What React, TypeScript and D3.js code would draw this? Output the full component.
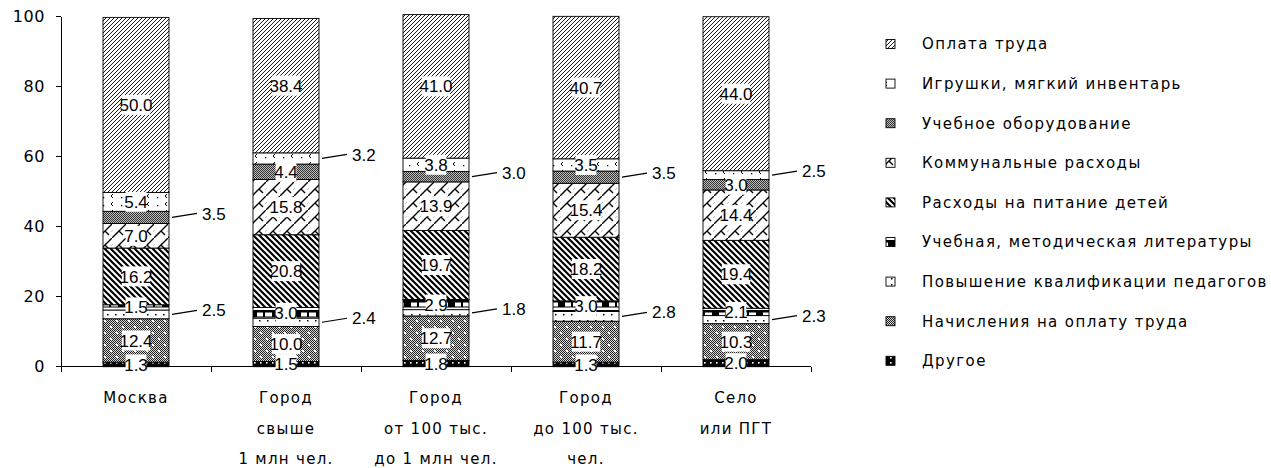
import React from "react";
import * as d3 from "d3";

const categories = [
  ["Москва"],
  ["Город", "свыше", "1 млн чел."],
  ["Город", "от 100 тыс.", "до 1 млн чел."],
  ["Город", "до 100 тыс.", "чел."],
  ["Село", "или ПГТ"],
];

const seriesNames = [
  "Другое",
  "Начисления на оплату труда",
  "Повышение квалификации педагогов",
  "Учебная, методическая литературы",
  "Расходы на питание детей",
  "Коммунальные расходы",
  "Учебное оборудование",
  "Игрушки, мягкий инвентарь",
  "Оплата труда",
];
const seriesKeys = ["other", "accruals", "training", "literature", "food", "utilities", "equipment", "toys", "wages"];

const other = [1.3, 1.5, 1.8, 1.3, 2.0];
const accruals = [12.4, 10.0, 12.7, 11.7, 10.3];
const training = [2.5, 2.4, 1.8, 2.8, 2.3];
const literature = [1.5, 3.0, 2.9, 3.0, 2.1];
const food = [16.2, 20.8, 19.7, 18.2, 19.4];
const utilities = [7.0, 15.8, 13.9, 15.4, 14.4];
const equipment = [3.5, 4.4, 3.0, 3.5, 3.0];
const toys = [5.4, 3.2, 3.8, 3.5, 2.5];
const wages = [50.0, 38.4, 41.0, 40.7, 44.0];

const seriesValues = [other, accruals, training, literature, food, utilities, equipment, toys, wages];

// labels drawn outside the bar with a leader line: [series key, category index]
const outsideLabels = [
  ["training", 0], ["training", 1], ["training", 2], ["training", 3], ["training", 4],
  ["equipment", 0], ["equipment", 2], ["equipment", 3],
  ["toys", 1], ["toys", 4],
];

const yTicks = [0, 20, 40, 60, 80, 100];

const W = 1271;
const H = 468;
const M = { left: 61, right: 811, top: 16.7, bottom: 366.7 };
const LABEL_FONT = "'Liberation Sans Narrow', 'Liberation Sans', Arial, sans-serif";
const TEXT_FONT = "'DejaVu Sans', sans-serif";

function Patterns() {
  return (
    <defs>
      <pattern id="checker" width="2" height="2" patternUnits="userSpaceOnUse">
        <rect width="2" height="2" fill="#d8d8d8" />
        <rect width="1" height="1" fill="#222" />
        <rect x="1" y="1" width="1" height="1" fill="#222" />
      </pattern>
      <pattern id="p-other" width="6" height="5" patternUnits="userSpaceOnUse">
        <rect width="6" height="5" fill="#000" />
        <rect x="2" y="2" width="1.6" height="1.6" fill="#fff" />
      </pattern>
      <pattern id="p-accruals" width="12" height="12" patternUnits="userSpaceOnUse">
        <rect width="12" height="12" fill="url(#checker)" />
        <rect x="2" y="2" width="2" height="2" fill="#fff" />
        <rect x="8" y="8" width="2" height="2" fill="#fff" />
      </pattern>
      <pattern id="p-training" width="8" height="6" patternUnits="userSpaceOnUse">
        <rect width="8" height="6" fill="#fff" />
        <rect x="3" y="2" width="1.5" height="1.5" fill="#000" />
      </pattern>
      <pattern id="p-literature" width="22" height="10" patternUnits="userSpaceOnUse">
        <rect width="22" height="10" fill="#fff" />
        <rect width="22" height="2" fill="#000" />
        <rect x="8" y="2" width="7" height="5" fill="#000" />
        <rect x="0.5" y="2" width="21" height="5" fill="none" stroke="#000" strokeWidth="1" />
      </pattern>
      <pattern id="p-food" width="6" height="6" patternUnits="userSpaceOnUse">
        <rect width="6" height="6" fill="#fff" />
        <path d="M-1,-1 L7,7 M-4,2 L2,8 M4,-2 L8,2" stroke="#000" strokeWidth="2.2" />
      </pattern>
      <pattern id="p-utilities" width="14" height="14" patternUnits="userSpaceOnUse">
        <rect width="14" height="14" fill="#fff" />
        <path d="M0,14 L14,0 M7,7 L11,11 M0,7 L-2,5 M14,7 L16,9" stroke="#000" strokeWidth="1.4" fill="none" />
      </pattern>
      <pattern id="p-equipment" width="2" height="2" patternUnits="userSpaceOnUse">
        <rect width="2" height="2" fill="#bcbcbc" />
        <rect width="1" height="1" fill="#333" />
        <rect x="1" y="1" width="1" height="1" fill="#333" />
      </pattern>
      <pattern id="p-toys" width="18" height="8" patternUnits="userSpaceOnUse">
        <rect width="18" height="8" fill="#fff" />
        <path d="M5,2 L3,4 L5,6" stroke="#000" strokeWidth="1" fill="none" />
        <rect x="13" y="5" width="1.3" height="1.3" fill="#000" />
      </pattern>
      <pattern id="p-wages" width="4" height="4" patternUnits="userSpaceOnUse">
        <rect width="4" height="4" fill="#fff" />
        <path d="M-1,1 L1,-1 M0,4 L4,0 M3,5 L5,3" stroke="#000" strokeWidth="0.9" />
      </pattern>
    </defs>
  );
}

function textWidth(s: string) {
  let w = 0;
  for (const ch of s) w += ch === "." ? 3.6 : 7.6;
  return w;
}

export default function App() {
  const x = d3.scaleBand().domain(d3.range(categories.length).map(String)).range([M.left, M.right]).paddingInner(0).paddingOuter(0);
  const y = d3.scaleLinear().domain([0, 100]).range([M.bottom, M.top]);
  const barW = 66;

  const table = categories.map((_, i) => {
    const row: any = {};
    seriesKeys.forEach((k, s) => (row[k] = seriesValues[s][i]));
    return row;
  });
  const stacked = d3.stack().keys(seriesKeys)(table as any);

  const isOutside = (k: string, i: number) => outsideLabels.some(([kk, ii]) => kk === k && ii === i);

  return (
    <svg width={W} height={H} style={{ display: "block", position: "absolute", left: 0, top: 0 }}>
      <Patterns />
      <rect width={W} height={H} fill="#fff" />
      {/* bars */}
      {stacked.map((layer) => (
        <g key={layer.key}>
          {layer.map((d, i) => {
            const cx = (x(String(i)) as number) + x.bandwidth() / 2;
            return (
              <rect
                key={i}
                x={cx - barW / 2}
                y={y(d[1])}
                width={barW}
                height={y(d[0]) - y(d[1])}
                fill={`url(#p-${layer.key})`}
                stroke="#000"
                strokeWidth={0.9}
              />
            );
          })}
        </g>
      ))}
      {/* axes */}
      <g stroke="#000" strokeWidth={1} shapeRendering="crispEdges">
        <line x1={M.left} x2={M.left} y1={y(100)} y2={y(0)} />
        {yTicks.map((t) => (
          <line key={t} x1={M.left - 5} x2={M.left} y1={y(t)} y2={y(t)} />
        ))}
        <line x1={M.left} x2={M.right} y1={y(0)} y2={y(0)} />
        {d3.range(categories.length + 1).map((i) => (
          <line key={i} x1={M.left + i * x.bandwidth()} x2={M.left + i * x.bandwidth()} y1={y(0)} y2={y(0) + 5} />
        ))}
      </g>
      {yTicks.map((t) => (
        <text key={t} x={M.left - 16} y={y(t)} dy="0.36em" textAnchor="end" fontFamily={TEXT_FONT} fontSize={16} letterSpacing={0.6}>
          {t}
        </text>
      ))}
      {/* category labels */}
      {categories.map((lines, i) => {
        const cx = (x(String(i)) as number) + x.bandwidth() / 2;
        return (
          <text key={i} textAnchor="middle" fontFamily={TEXT_FONT} fontSize={15} letterSpacing={1.3}>
            {lines.map((l, j) => (
              <tspan key={j} x={cx} y={403 + j * 30.5}>
                {l}
              </tspan>
            ))}
          </text>
        );
      })}
      {/* value labels */}
      {stacked.map((layer) => (
        <g key={layer.key}>
          {layer.map((d, i) => {
            const cx = (x(String(i)) as number) + x.bandwidth() / 2;
            const v = (d[1] - d[0]) as number;
            const label = v.toFixed(1);
            const cy = (y(d[0]) + y(d[1])) / 2;
            if (isOutside(layer.key, i)) {
              const x0 = cx + barW / 2 + 3;
              return (
                <g key={i}>
                  <line x1={x0} y1={cy} x2={x0 + 25} y2={cy - 4} stroke="#000" strokeWidth={1.2} />
                  <text x={x0 + 30} y={cy - 4} dy="0.36em" fontFamily={LABEL_FONT} fontSize={17}>
                    {label}
                  </text>
                </g>
              );
            }
            const tw = textWidth(label);
            return (
              <g key={i}>
                <rect x={cx - tw / 2 - 1} y={cy - 10} width={tw + 2} height={20} fill="#fff" />
                <text x={cx} y={cy} dy="0.36em" textAnchor="middle" fontFamily={LABEL_FONT} fontSize={17}>
                  {label}
                </text>
              </g>
            );
          })}
        </g>
      ))}
      {/* legend */}
      {seriesKeys
        .map((k, s) => ({ k, name: seriesNames[s] }))
        .reverse()
        .map((it, j) => {
          const cy = 44 + j * 39.6;
          return (
            <g key={it.k}>
              <rect x={886} y={cy - 4.5} width={9} height={9} fill={`url(#p-${it.k})`} stroke="#000" strokeWidth={0.9} />
              <text x={922} y={cy} dy="0.36em" fontFamily={TEXT_FONT} fontSize={15} letterSpacing={1.4}>
                {it.name}
              </text>
            </g>
          );
        })}
    </svg>
  );
}
